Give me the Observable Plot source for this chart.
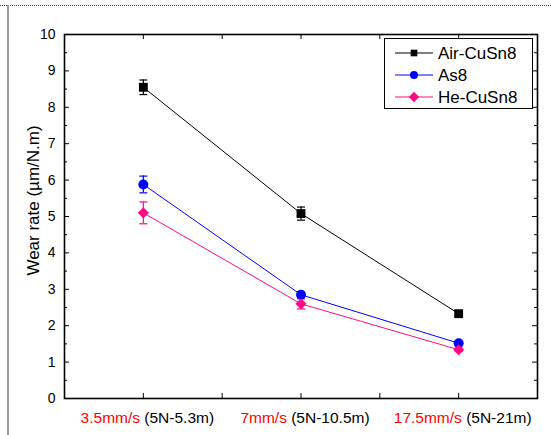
<!DOCTYPE html>
<html>
<head>
<meta charset="utf-8">
<script src="https://cdn.jsdelivr.net/npm/d3@7"></script>
<script src="https://cdn.jsdelivr.net/npm/@observablehq/plot@0.6"></script>
<style>
  html, body { margin: 0; padding: 0; background: #fff; }
  #wrap { position: relative; width: 551px; height: 435px; overflow: hidden; font-family: "Liberation Sans", Arial, sans-serif; }
  #wrap svg { position: absolute; left: 0; top: 0; }
</style>
</head>
<body>
<div id="wrap"></div>
<script>
// ---- data ----
const speeds = ["3.5mm/s", "7mm/s", "17.5mm/s"];
const conditions = ["(5N-5.3m)", "(5N-10.5m)", "(5N-21m)"];
const xPositions = [1, 3, 5];
const seriesNames = ["Air-CuSn8", "As8", "He-CuSn8"];
const airCuSn8 = [8.55, 5.08, 2.33];
const airCuSn8Err = [0.2, 0.18, 0.06];
const as8 = [5.88, 2.85, 1.52];
const as8Err = [0.23, 0.08, 0.05];
const heCuSn8 = [5.1, 2.6, 1.34];
const heCuSn8Err = [0.3, 0.14, 0.05];
const yTicks = [0, 1, 2, 3, 4, 5, 6, 7, 8, 9, 10];
const yMinorTicks = [0.5, 1.5, 2.5, 3.5, 4.5, 5.5, 6.5, 7.5, 8.5, 9.5];
const xTicks = [0, 1, 2, 3, 4, 5, 6];
const yLabel = "Wear rate (µm/N.m)";

const colors = ["#000000", "#0000ff", "#ff0a84"];
const symbols = ["square", "circle", "diamond2"];

const valuesBySeries = [airCuSn8, as8, heCuSn8];
const errBySeries = [airCuSn8Err, as8Err, heCuSn8Err];
const rows = [];
seriesNames.forEach((s, i) => {
  xPositions.forEach((x, j) => {
    rows.push({series: s, x, value: valuesBySeries[i][j], err: errBySeries[i][j]});
  });
});

const W = 551, H = 435;
const mL = 64, mR = 14, mT = 34, mB = 37;
const innerW = W - mL - mR, innerH = H - mT - mB;

const capSymbol = {draw(ctx) { ctx.moveTo(-4, 0); ctx.lineTo(4, 0); }};

const chart = Plot.plot({
  width: W, height: H,
  marginLeft: mL, marginRight: mR, marginTop: mT, marginBottom: mB,
  style: {fontFamily: "'Liberation Sans', Arial, sans-serif", background: "transparent", overflow: "visible"},
  x: {domain: [0, 6]},
  y: {domain: [0, 10]},
  color: {domain: seriesNames, range: colors},
  symbol: {domain: seriesNames, range: symbols},
  marks: [
    Plot.axisY(yTicks, {tickSize: 0, tickPadding: 9, fontSize: 14, label: null, fill: "#000"}),
    Plot.axisX(xPositions, {tickSize: 0, tickPadding: 13, fontSize: 15.5, dx: 4, label: null, fill: "#000",
      tickFormat: d => speeds[xPositions.indexOf(d)] + " " + conditions[xPositions.indexOf(d)]}),
    Plot.text([yLabel], {frameAnchor: "left", textAnchor: "middle", lineAnchor: "middle", rotate: -90, dx: -31, dy: -16, fontSize: 17, fill: "#000", text: d => d}),
    Plot.tickY(yTicks, {y: d => d, insetRight: innerW - 5, stroke: "#000"}),
    Plot.tickY(yMinorTicks, {y: d => d, insetRight: innerW - 3, stroke: "#000"}),
    Plot.tickY(yTicks, {y: d => d, insetLeft: innerW - 5, stroke: "#000"}),
    Plot.tickY(yMinorTicks, {y: d => d, insetLeft: innerW - 3, stroke: "#000"}),
    Plot.tickX(xTicks, {x: d => d, insetTop: innerH - 5, stroke: "#000"}),
    Plot.tickX(xTicks, {x: d => d, insetBottom: innerH - 5, stroke: "#000"}),
    Plot.line(rows, {x: "x", y: "value", z: "series", stroke: "series", strokeWidth: 1}),
    Plot.ruleX(rows, {x: "x", y1: d => d.value - d.err, y2: d => d.value + d.err, stroke: "series", strokeWidth: 1.2}),
    Plot.dot(rows, {x: "x", y: d => d.value + d.err, symbol: capSymbol, stroke: "series", strokeWidth: 1.2}),
    Plot.dot(rows, {x: "x", y: d => d.value - d.err, symbol: capSymbol, stroke: "series", strokeWidth: 1.2}),
    Plot.dot(rows, {x: "x", y: "value", symbol: "series", fill: "series", stroke: "none", r: 5}),
    Plot.frame({stroke: "#000", strokeWidth: 1.6})
  ]
});

document.getElementById("wrap").appendChild(chart);

// colour the speed part of the x tick labels red
d3.select(chart).selectAll("g[aria-label='x-axis tick label'] text").each(function(d, i) {
  const t = d3.select(this);
  t.text(null);
  t.append("tspan").attr("fill", "#ff0000").text(speeds[i]);
  t.append("tspan").attr("fill", "#000").text(" " + conditions[i]);
});

// overlay: page decorations and legend
const ov = d3.select("#wrap").append("svg").attr("width", W).attr("height", H)
  .style("font-family", "'Liberation Sans', Arial, sans-serif");
ov.append("line").attr("x1", 0).attr("x2", W).attr("y1", 5.5).attr("y2", 5.5)
  .attr("stroke", "#444").attr("stroke-dasharray", "1,1").attr("stroke-width", 1);
ov.append("line").attr("x1", 8).attr("x2", 8).attr("y1", 5).attr("y2", H)
  .attr("stroke", "#9a9a9a").attr("stroke-width", 2);

const lg = ov.append("g");
lg.append("rect").attr("x", 384.5).attr("y", 38.5).attr("width", 148).attr("height", 70)
  .attr("fill", "#fff").attr("stroke", "#000").attr("stroke-width", 1);
const rowY = [53, 75, 97];
const symGen = [d3.symbolSquare, d3.symbolCircle, d3.symbolDiamond2];
const symSize = [44, 50, 70];
seriesNames.forEach((s, i) => {
  const g = lg.append("g").attr("transform", `translate(0,${rowY[i]})`);
  g.append("line").attr("x1", 395).attr("x2", 433).attr("y1", 0).attr("y2", 0).attr("stroke", colors[i]).attr("stroke-width", 1);
  g.append("path").attr("transform", "translate(414,0)").attr("d", d3.symbol(symGen[i], symSize[i])()).attr("fill", colors[i]);
  g.append("text").attr("x", 438).attr("y", 0).attr("dy", "0.35em").attr("font-size", 17).attr("fill", "#000").text(s);
});
</script>
</body>
</html>
